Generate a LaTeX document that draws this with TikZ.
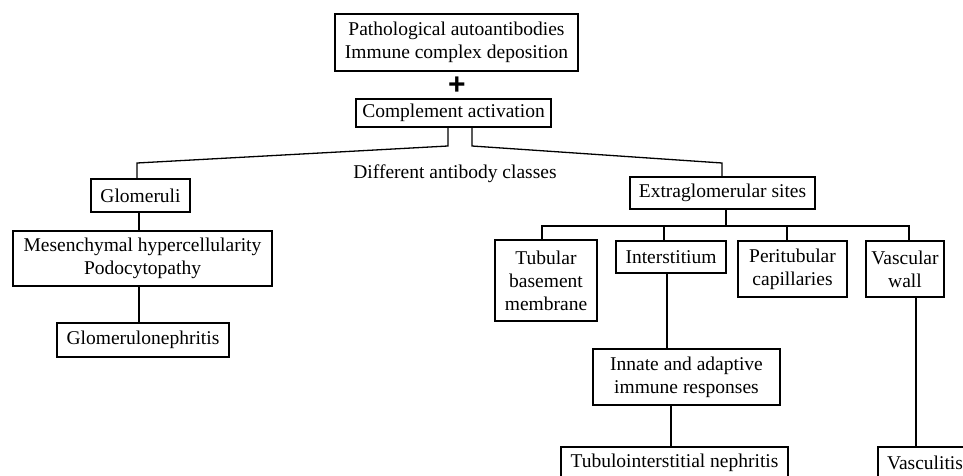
\documentclass[tikz,border=0pt]{standalone}
\usepackage{fontspec}
\setmainfont{Liberation Serif}
\newfontfamily\plusfont{Liberation Sans}
\begin{document}
\begin{tikzpicture}[x=1pt,y=-1pt,
  box/.style={draw=black, line width=1.8pt, inner sep=0pt, align=center,
    font=\fontsize{19.5}{23}\selectfont},
  conn/.style={draw=black, line width=1.3pt}]
\useasboundingbox (0,0) rectangle (963,476);
\clip (0,0) rectangle (963,476);
% nodes
\node[box, minimum width=243pt, minimum height=57pt] (top) at (456.5,42.5) {Pathological autoantibodies\\Immune complex deposition};
\node[font=\plusfont\bfseries\fontsize{30}{30}\selectfont, inner sep=0pt] (plus) at (457,86) {+};
\node[box, minimum width=195pt, minimum height=28pt] (comp) at (453.5,113) {Complement activation};
\node[font=\fontsize{19.5}{23}\selectfont, inner sep=0pt] (diff) at (455,174) {Different antibody classes};
\node[box, minimum width=99pt, minimum height=33pt] (glom) at (140.5,195.5) {Glomeruli};
\node[box, minimum width=259pt, minimum height=55pt] (mes) at (142.5,258.5) {Mesenchymal hypercellularity\\Podocytopathy};
\node[box, minimum width=172pt, minimum height=34pt] (gn) at (143,340) {Glomerulonephritis};
\node[box, minimum width=185pt, minimum height=32pt] (extra) at (722.5,193) {Extraglomerular sites};
\node[box, minimum width=102pt, minimum height=81pt] (tub) at (546,280.5) {Tubular\\basement\\membrane};
\node[box, minimum width=110pt, minimum height=32pt] (inter) at (671,257) {Interstitium};
\node[box, minimum width=109pt, minimum height=56pt] (peri) at (792.5,269) {Peritubular\\capillaries};
\node[box, minimum width=78pt, minimum height=56pt] (vasc) at (905,269) {Vascular\\wall};
\node[box, minimum width=187pt, minimum height=56pt] (innate) at (686.5,377) {Innate and adaptive\\immune responses};
\node[box, minimum width=227pt, minimum height=32pt] (tin) at (674.5,463) {Tubulointerstitial nephritis};
\node[box, minimum width=94pt, minimum height=32pt] (vascul) at (925,463) {Vasculitis};
% coordinates
\coordinate (c1) at (448,146);
\coordinate (c2) at (137,163);
\coordinate (c3) at (472,146);
\coordinate (c4) at (722,163);
\coordinate (g1) at (139,0);
\coordinate (bar) at (726,226);
\coordinate (bl) at (542,226);
\coordinate (d2) at (664,226);
\coordinate (d3) at (787,226);
\coordinate (br) at (909,226);
\coordinate (i1) at (667,0);
\coordinate (i2) at (671,0);
\coordinate (v1) at (916,0);
% connectors
\draw[conn] (comp.south -| c1) -- (c1) -- (c2) -- (glom.north -| c2);
\draw[conn] (comp.south -| c3) -- (c3) -- (c4) -- (extra.north -| c4);
\draw[conn] (glom.south -| g1) -- (mes.north -| g1);
\draw[conn] (mes.south -| g1) -- (gn.north -| g1);
\draw[conn] (extra.south -| bar) -- (bar);
\draw[conn] (tub.north -| bl) -- (bl) -- (br) -- (vasc.north -| br);
\draw[conn] (d2) -- (inter.north -| d2);
\draw[conn] (d3) -- (peri.north -| d3);
\draw[conn] (inter.south -| i1) -- (innate.north -| i1);
\draw[conn] (innate.south -| i2) -- (tin.north -| i2);
\draw[conn] (vasc.south -| v1) -- (vascul.north -| v1);
\end{tikzpicture}
\end{document}
